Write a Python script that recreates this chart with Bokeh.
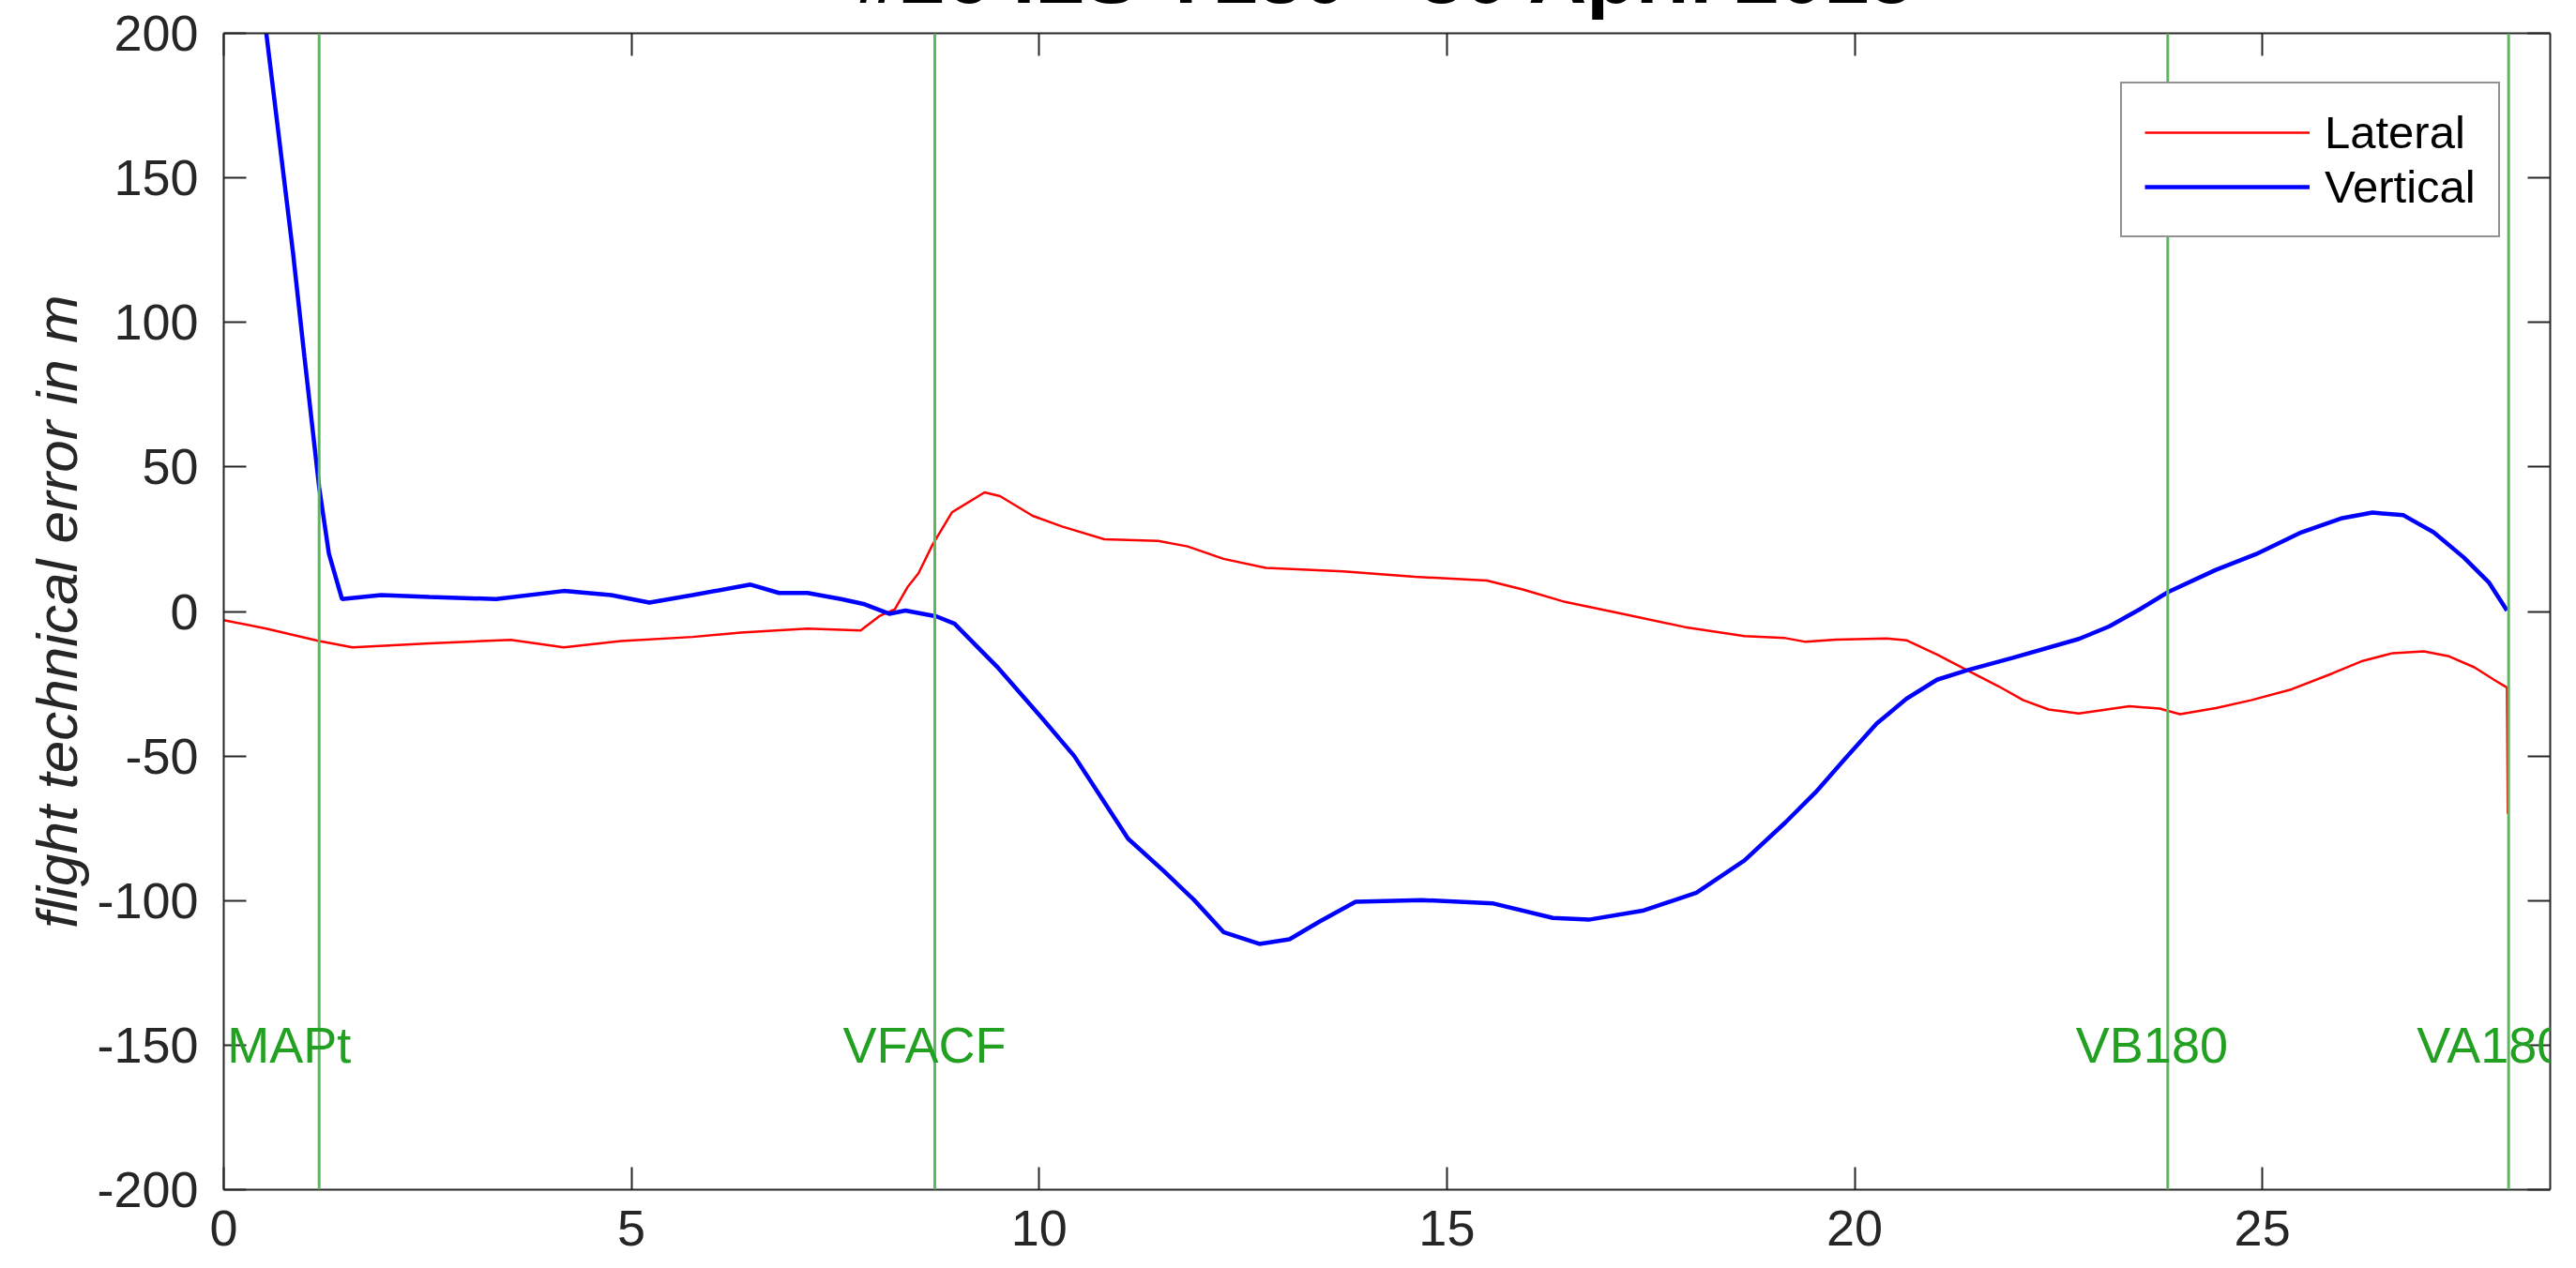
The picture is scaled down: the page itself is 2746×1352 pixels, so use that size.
from bokeh.plotting import figure
from bokeh.models import Range1d, LinearAxis, FixedTicker, Label, Span
from bokeh.embed import file_html
from bokeh.resources import INLINE

# ---------------- data ----------------
title_text = "#26 ILS Y180 - 30 April 2015"
y_label = "flight technical error in m"

lateral_x = [0.0, 0.52, 1.17, 1.58, 2.52, 3.52, 4.17, 4.87, 5.75, 6.34, 7.16, 7.81,
             8.04, 8.23, 8.39, 8.52, 8.69, 8.93, 9.33, 9.52, 9.92, 10.28, 10.80,
             11.46, 11.82, 12.26, 12.78, 13.73, 14.61, 15.49, 15.93, 16.45, 17.18,
             17.92, 18.65, 19.15, 19.40, 19.77, 20.39, 20.64, 21.01, 21.38, 21.76,
             22.07, 22.38, 22.75, 23.37, 23.74, 23.99, 24.43, 24.86, 25.36, 25.86,
             26.23, 26.60, 26.98, 27.29, 27.60, 27.84, 28.00, 28.01]
lateral_y = [-3.0, -5.9, -10.2, -12.4, -11.0, -9.8, -12.4, -10.2, -8.8, -7.3, -5.9, -6.6,
             -1.6, 0.8, 8.6, 13.2, 23.0, 34.3, 41.2, 39.9, 33.1, 29.4, 25.0,
             24.4, 22.5, 18.2, 15.1, 13.9, 12.0, 10.7, 7.6, 3.3, -1.0,
             -5.4, -8.5, -9.2, -10.5, -9.7, -9.3, -10.0, -14.9, -20.3, -25.8,
             -30.7, -33.9, -35.3, -32.8, -33.6, -35.5, -33.4, -30.7, -26.9, -21.4,
             -17.1, -14.4, -13.8, -15.5, -19.3, -23.6, -26.3, -70.0]

vertical_x = [0.0, 0.52, 0.85, 0.99, 1.17, 1.29, 1.45, 1.93, 2.52, 3.34, 4.17, 4.75,
              5.22, 5.75, 6.46, 6.81, 7.16, 7.57, 7.86, 8.16, 8.36, 8.74, 8.96, 9.48,
              10.06, 10.43, 10.80, 11.09, 11.53, 11.90, 12.26, 12.70, 13.07, 13.44,
              13.88, 14.69, 15.57, 16.30, 16.74, 17.40, 18.06, 18.65, 19.15, 19.52,
              19.89, 20.27, 20.64, 21.01, 21.38, 21.94, 22.75, 23.12, 23.50, 23.85,
              24.43, 24.92, 25.48, 25.98, 26.35, 26.73, 27.10, 27.47, 27.78, 28.00]
vertical_y = [320.0, 200.5, 124.0, 88.0, 43.0, 20.0, 4.3, 5.7, 5.0, 4.3, 7.1, 5.7,
              3.1, 5.7, 9.3, 6.4, 6.4, 4.3, 2.5, -0.8, 0.3, -1.7, -4.2, -19.0,
              -37.7, -50.0, -66.0, -78.6, -89.8, -99.8, -110.9, -115.0, -113.4, -107.2,
              -100.4, -99.8, -101.0, -106.0, -106.6, -103.5, -97.3, -86.1, -73.0, -62.6,
              -50.7, -38.8, -30.1, -23.6, -20.3, -16.0, -9.5, -5.2, 0.8, 6.8,
              14.4, 19.8, 27.4, 32.3, 34.2, 33.3, 27.4, 18.7, 10.0, 0.3]

waypoint_names = ["MAPt", "VFACF", "VB180", "VA180"]
waypoint_x = [1.17, 8.72, 23.84, 28.02]
waypoint_label_y = [-150, -150, -150, -150]

x_ticks = [0, 5, 10, 15, 20, 25]
y_ticks = [-200, -150, -100, -50, 0, 50, 100, 150, 200]
y_tick_labels = ["-200", "-150", "-100", "-50", "0", "50", "100", "150", "200"]

# ---------------- styling ----------------
AX = "#262626"
FONT = "Liberation Sans"
GREEN_LINE = "#5cb85c"
GREEN_TEXT = "#22a022"

SHIFT = 215          # canvas part hidden above the window top (title is cut, as in the reference)
W, H = 2740, 1352 + SHIFT
p = figure(width=W, height=H, output_backend="svg", toolbar_location=None,
           x_range=Range1d(0, 28.53), y_range=Range1d(-200, 200),
           min_border_left=238, min_border_right=W - 2718, min_border_top=35 + SHIFT,
           min_border_bottom=84)
p.styles = {"margin-top": f"-{SHIFT}px"}
p.background_fill_color = "white"
p.border_fill_color = "white"
p.outline_line_color = None
p.grid.visible = False

p.title.text = title_text
p.title.text_font = FONT
p.title.text_font_style = "bold"
p.title.text_font_size = "86px"
p.title.text_color = "black"
p.title.align = "center"
p.title.vertical_align = "bottom"
p.title.standoff = 30

def style_axis(ax):
    ax.axis_line_color = AX
    ax.axis_line_width = 2
    ax.major_tick_line_color = AX
    ax.major_tick_line_width = 2
    ax.major_tick_in = 24
    ax.major_tick_out = 0
    ax.minor_tick_line_color = None
    ax.major_label_text_color = AX
    ax.major_label_text_font = FONT
    ax.major_label_text_font_size = "54px"

xa = p.xaxis[0]
ya = p.yaxis[0]
xa.ticker = FixedTicker(ticks=x_ticks)
ya.ticker = FixedTicker(ticks=y_ticks)
style_axis(xa)
style_axis(ya)
ya.major_label_overrides = {t: s for t, s in zip(y_ticks, y_tick_labels)}
xa.major_label_standoff = 22
ya.major_label_standoff = 27
ya.axis_label = y_label
ya.axis_label_text_font = FONT
ya.axis_label_text_font_style = "italic"
ya.axis_label_text_font_size = "62px"
ya.axis_label_text_color = AX
ya.axis_label_standoff = 5

top = LinearAxis(ticker=FixedTicker(ticks=x_ticks))
style_axis(top)
top.major_label_overrides = {t: "" for t in x_ticks}
top.major_label_text_font_size = "0px"
top.major_label_standoff = 0
p.add_layout(top, "above")
right = LinearAxis(ticker=FixedTicker(ticks=y_ticks))
style_axis(right)
right.major_label_overrides = {t: "" for t in y_ticks}
right.major_label_standoff = 0
p.add_layout(right, "right")

# waypoint vertical lines
for wx in waypoint_x:
    p.add_layout(Span(location=wx, dimension="height", line_color=GREEN_LINE,
                      line_width=3))

# data lines
p.line(lateral_x, lateral_y, line_color="#ff0000", line_width=2.5, legend_label="Lateral")
p.line(vertical_x, vertical_y, line_color="#0000ff", line_width=4.5, legend_label="Vertical")

# waypoint labels
for name, wx, wy in zip(waypoint_names, waypoint_x, waypoint_label_y):
    p.add_layout(Label(x=wx, y=wy, x_offset=-98, text=name,
                       text_align="left", text_baseline="middle",
                       text_color=GREEN_TEXT, text_font=FONT,
                       text_font_size="54px"))

lg = p.legend[0]
lg.location = (2022, 1015)
lg.label_text_font = FONT
lg.label_text_font_size = "49px"
lg.label_text_color = "black"
lg.glyph_width = 176
lg.label_standoff = 16
lg.padding = 24
lg.spacing = 2
lg.border_line_color = AX
lg.border_line_width = 2
lg.background_fill_alpha = 1.0
lg.margin = 0

open("out.html", "w").write(file_html(p, INLINE))
